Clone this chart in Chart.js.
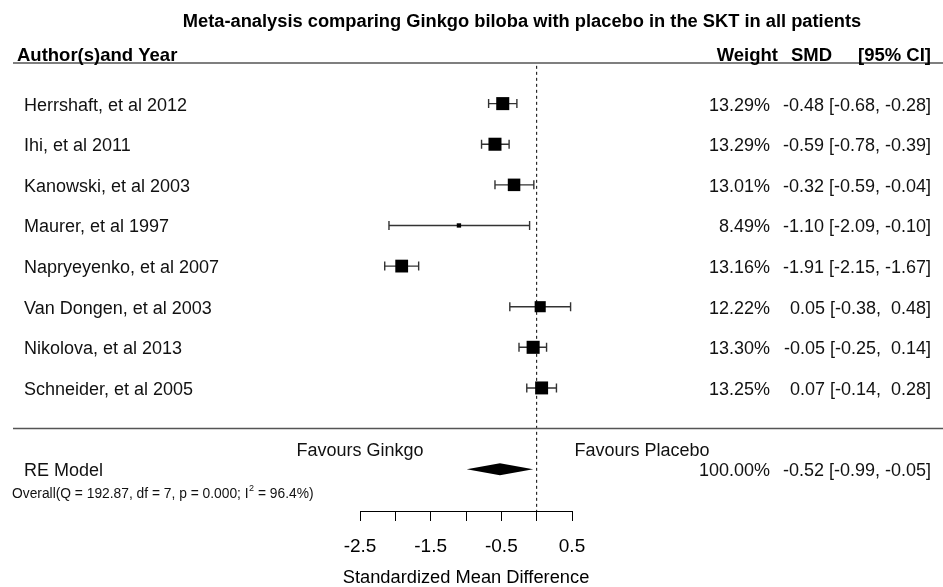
<!DOCTYPE html>
<html>
<head>
<meta charset="utf-8">
<script src="https://cdn.jsdelivr.net/npm/chart.js@4.4.1/dist/chart.umd.min.js"></script>
<style>
  html, body { margin:0; padding:0; background:#fff; }
  #wrap { width:943px; height:587px; }
</style>
</head>
<body>
<div id="wrap"><canvas id="c" width="943" height="587"></canvas></div>
<script>
// ---- data ----
const studies = ["Herrshaft, et al 2012","Ihi, et al 2011","Kanowski, et al 2003","Maurer, et al 1997",
                 "Napryeyenko, et al 2007","Van Dongen, et al 2003","Nikolova, et al 2013","Schneider, et al 2005"];
const weights = [13.29, 13.29, 13.01, 8.49, 13.16, 12.22, 13.30, 13.25];
const smd     = [-0.48, -0.59, -0.32, -1.10, -1.91, 0.05, -0.05, 0.07];
const ciLow   = [-0.68, -0.78, -0.59, -2.09, -2.15, -0.38, -0.25, -0.14];
const ciHigh  = [-0.28, -0.39, -0.04, -0.10, -1.67, 0.48, 0.14, 0.28];
const rows    = [8, 7, 6, 5, 4, 3, 2, 1];
const reEst = -0.52, reLow = -0.99, reHigh = -0.05, reWeight = 100.00;
const reRow = -1;
const statQ = "192.87", statDf = "7", statP = "0.000", statI2 = "96.4";
const tickLabels = ["-2.5", "-1.5", "-0.5", "0.5"];
const axisTitle = "Standardized Mean Difference";
const refValue = 0;

const FONT = '"Liberation Sans", Arial, Helvetica, sans-serif';
const pad5 = v => v.toFixed(2).padStart(5, ' ');
const annot = (e, l, h) => `${pad5(e)} [${pad5(l)}, ${pad5(h)}]`;

const minW = Math.min(...weights), maxW = Math.max(...weights);
const radii = weights.map(w => {
  const ps = (w - minW) / (maxW - minW) + 0.5;
  const side = ps * 8.7;
  return side / (2 * Math.SQRT1_2);
});

const forest = {
  id: 'forest',
  beforeDatasetsDraw(chart) {
    const {ctx, scales: {x, y}} = chart;
    ctx.save();
    ctx.strokeStyle = '#333';
    ctx.lineWidth = 1.4;
    for (let i = 0; i < studies.length; i++) {
      const py = y.getPixelForValue(rows[i]);
      const x1 = x.getPixelForValue(ciLow[i]), x2 = x.getPixelForValue(ciHigh[i]);
      ctx.beginPath();
      ctx.moveTo(x1, py); ctx.lineTo(x2, py);
      ctx.moveTo(x1, py - 4.5); ctx.lineTo(x1, py + 4.5);
      ctx.moveTo(x2, py - 4.5); ctx.lineTo(x2, py + 4.5);
      ctx.stroke();
    }
    ctx.restore();
  },
  afterDraw(chart) {
    const {ctx, scales: {x, y}} = chart;
    const W = chart.width;
    ctx.save();
    // horizontal rules
    ctx.strokeStyle = '#555';
    ctx.lineWidth = 1.6;
    ctx.beginPath();
    ctx.moveTo(13, 63); ctx.lineTo(W, 63);
    const sepY = y.getPixelForValue(0);
    ctx.moveTo(13, sepY); ctx.lineTo(W, sepY);
    ctx.stroke();

    // summary diamond
    const dy = y.getPixelForValue(reRow);
    ctx.fillStyle = '#000';
    ctx.beginPath();
    ctx.moveTo(x.getPixelForValue(reLow), dy);
    ctx.lineTo(x.getPixelForValue(reEst), dy - 6);
    ctx.lineTo(x.getPixelForValue(reHigh), dy);
    ctx.lineTo(x.getPixelForValue(reEst), dy + 6);
    ctx.closePath();
    ctx.fill();

    // title
    ctx.fillStyle = '#000';
    ctx.textBaseline = 'alphabetic';
    ctx.font = `bold 18.3px ${FONT}`;
    ctx.textAlign = 'center';
    ctx.fillText('Meta-analysis comparing Ginkgo biloba with placebo in the SKT in all patients', 522, 27);

    // headers
    ctx.font = `bold 18.5px ${FONT}`;
    ctx.textAlign = 'left';
    ctx.fillText('Author(s)and Year', 17, 61);
    ctx.textAlign = 'right';
    ctx.fillText('Weight', 778, 61);
    ctx.fillText('SMD', 832, 61);
    ctx.fillText('[95% CI]', 931, 61);

    // study rows
    ctx.font = `18px ${FONT}`;
    ctx.fillStyle = '#111';
    for (let i = 0; i < studies.length; i++) {
      const py = y.getPixelForValue(rows[i]) + 7;
      ctx.textAlign = 'left';
      ctx.fillText(studies[i], 24, py);
      ctx.textAlign = 'right';
      ctx.fillText(weights[i].toFixed(2) + '%', 770, py);
      ctx.fillText(annot(smd[i], ciLow[i], ciHigh[i]), 931, py);
    }

    // RE model row
    const ry = y.getPixelForValue(reRow) + 7;
    ctx.textAlign = 'left';
    ctx.fillText('RE Model', 24, ry);
    ctx.textAlign = 'right';
    ctx.fillText(reWeight.toFixed(2) + '%', 770, ry);
    ctx.fillText(annot(reEst, reLow, reHigh), 931, ry);

    // favours labels
    const fy = y.getPixelForValue(-0.5) + 7;
    ctx.textAlign = 'center';
    ctx.fillText('Favours Ginkgo', 360, fy);
    ctx.fillText('Favours Placebo', 642, fy);

    // axis title (centred under the axis, may be wider than the axis)
    ctx.font = `18.3px ${FONT}`;
    ctx.fillStyle = '#000';
    ctx.textBaseline = 'middle';
    ctx.fillText(axisTitle, (x.left + x.right) / 2, 578);
    ctx.textBaseline = 'alphabetic';
    ctx.fillStyle = '#111';

    // overall stats (with superscript 2)
    ctx.textAlign = 'left';
    ctx.font = `13.8px ${FONT}`;
    const sy = ry + 22;
    const s1 = `Overall(Q = ${statQ}, df = ${statDf}, p = ${statP}; I`;
    ctx.fillText(s1, 12, sy);
    let xx = 12 + ctx.measureText(s1).width;
    ctx.font = `9px ${FONT}`;
    ctx.fillText('2', xx + 0.5, sy - 7);
    xx += ctx.measureText('2').width + 0.5;
    ctx.font = `13.8px ${FONT}`;
    ctx.fillText(` = ${statI2}%)`, xx, sy);
    ctx.restore();
  }
};

const yMin = -2.03, yMax = 9.0;

new Chart(document.getElementById('c'), {
  type: 'scatter',
  data: {
    datasets: [
      {
        label: 'ref',
        type: 'line',
        data: [{x: refValue, y: yMax - 0.07}, {x: refValue, y: yMin}],
        borderColor: '#000',
        borderWidth: 1,
        borderDash: [3, 3],
        pointRadius: 0,
        fill: false,
        order: 2
      },
      {
        label: 'studies',
        data: studies.map((s, i) => ({x: smd[i], y: rows[i]})),
        pointStyle: 'rect',
        pointRadius: radii,
        pointHoverRadius: radii,
        backgroundColor: '#000',
        borderColor: '#000',
        borderWidth: 0,
        order: 1
      }
    ]
  },
  options: {
    responsive: false,
    animation: false,
    devicePixelRatio: 1,
    layout: { padding: { left: 360, right: 371, top: 63, bottom: 0 } },
    plugins: { legend: { display: false }, tooltip: { enabled: false }, title: { display: false } },
    scales: {
      x: {
        type: 'linear',
        min: -2.5, max: 0.5,
        afterFit: s => { s.height = 76; },
        ticks: {
          stepSize: 0.5,
          autoSkip: false,
          maxRotation: 0,
          padding: 14,
          color: '#000',
          font: { size: 19, family: FONT },
          callback: v => tickLabels.includes(v.toFixed(1)) ? v.toFixed(1) : ''
        },
        grid: { drawOnChartArea: false, drawTicks: true, tickLength: 10, color: '#000', lineWidth: 1 },
        border: { display: true, color: '#000', width: 1 },
        title: { display: false }
      },
      y: { type: 'linear', display: false, min: yMin, max: yMax }
    }
  },
  plugins: [forest]
});
</script>
</body>
</html>
